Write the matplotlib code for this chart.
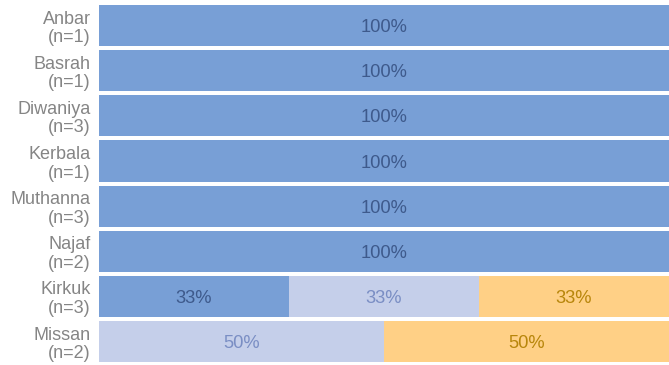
import matplotlib.pyplot as plt
import numpy as np

plt.rcParams['font.family'] = ['Liberation Sans', 'DejaVu Sans']

# governorates and sample sizes
regions = ['Anbar', 'Basrah', 'Diwaniya', 'Kerbala', 'Muthanna', 'Najaf', 'Kirkuk', 'Missan']
counts = [1, 1, 3, 1, 3, 2, 3, 2]

# responses per category
cat1 = [1, 1, 3, 1, 3, 2, 1, 0]
cat2 = [0, 0, 0, 0, 0, 0, 1, 1]
cat3 = [0, 0, 0, 0, 0, 0, 1, 1]

colors = ['#789fd6', '#c5cfea', '#ffd086']
text_colors = ['#3e5a8c', '#7a8ec4', '#b8860b']

fig = plt.figure(figsize=(6.69, 3.65), dpi=100)
ax = fig.add_axes([0.148, 0.008, 0.852, 0.978])

h = 0.91
y = np.arange(len(regions))
n = np.array(counts, dtype=float)
left = np.zeros(len(regions))
for vals, c, tc in zip([cat1, cat2, cat3], colors, text_colors):
    pct = 100 * np.array(vals, dtype=float) / n
    ax.barh(y, pct, left=left, height=h, color=c, edgecolor='none')
    for yi, l, v in zip(y, left, pct):
        if v > 0:
            ax.text(l + v / 2, yi, f'{v:.0f}%', ha='center', va='center_baseline',
                    color=tc, fontsize=13.2)
    left += pct

ax.set_xlim(0, 100)
ax.set_ylim(len(regions) - 1 + h / 2, -h / 2)
ax.set_yticks(y)
ax.set_yticklabels([f'{r}\n(n={k})' for r, k in zip(regions, counts)],
                   color='#858585', fontsize=13, linespacing=1.12)
ax.tick_params(axis='y', length=0, pad=6)
ax.set_xticks([])
for s in ax.spines.values():
    s.set_visible(False)

fig.savefig('out.png', dpi=100)
